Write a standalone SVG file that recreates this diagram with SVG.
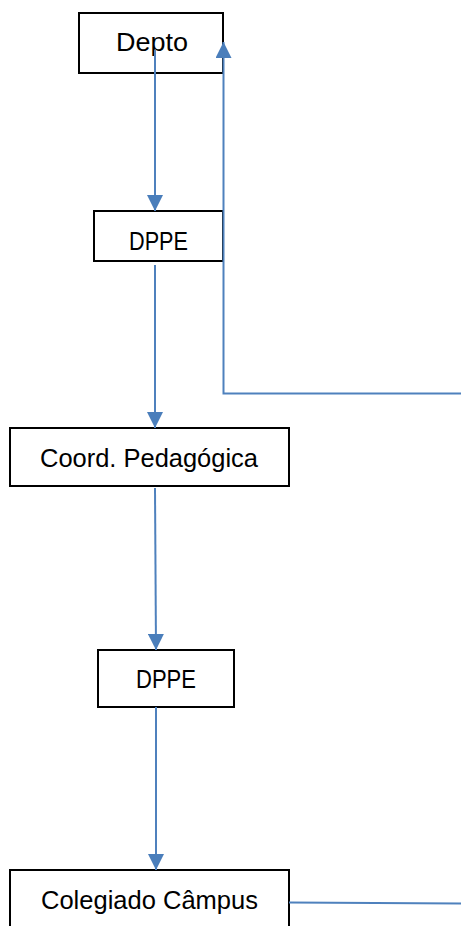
<svg xmlns="http://www.w3.org/2000/svg" width="461" height="926" viewBox="0 0 461 926">
<style>
.box{fill:#fff;stroke:#000;stroke-width:2}
.lbl{font-family:"Liberation Sans",Arial,sans-serif;font-size:25px;fill:#000}
.con{fill:none;stroke:#4f81bd;stroke-width:2}
</style>
<defs>
<marker id="ah" markerUnits="userSpaceOnUse" markerWidth="16" markerHeight="16" viewBox="0 0 16 16" refX="16" refY="8" orient="auto">
<path d="M0,0 L16,8 L0,16 Z" fill="#4a7ebb"/>
</marker>
</defs>
<g id="n-depto"><rect class="box" x="79" y="13" width="144" height="60"/><text class="lbl" x="116" y="51" textLength="72" lengthAdjust="spacingAndGlyphs">Depto</text></g>
<g id="n-dppe1"><rect class="box" x="94" y="211" width="129" height="50"/><text class="lbl" x="129" y="250" textLength="59" lengthAdjust="spacingAndGlyphs">DPPE</text></g>
<g id="n-coord"><rect class="box" x="10" y="428" width="279" height="58"/><text class="lbl" x="40" y="467" textLength="218" lengthAdjust="spacingAndGlyphs">Coord. Pedagógica</text></g>
<g id="n-dppe2"><rect class="box" x="98" y="650" width="136" height="57"/><text class="lbl" x="136" y="688" textLength="60" lengthAdjust="spacingAndGlyphs">DPPE</text></g>
<g id="n-coleg"><rect class="box" x="10" y="870" width="279" height="70"/><text class="lbl" x="41" y="909" textLength="217" lengthAdjust="spacingAndGlyphs">Colegiado Câmpus</text></g>
<g id="connectors">
<path class="con" d="M155,50 L155,211" marker-end="url(#ah)"/>
<path class="con" d="M155,265 L155,428" marker-end="url(#ah)"/>
<path class="con" d="M155,488 L156,650" marker-end="url(#ah)"/>
<path class="con" d="M156,707 L156,870" marker-end="url(#ah)"/>
<path class="con" d="M461,393.5 L223.5,393.5 L223.5,42" marker-end="url(#ah)"/>
<path class="con" d="M289,902.5 L461,903.5"/>
</g>
</svg>
